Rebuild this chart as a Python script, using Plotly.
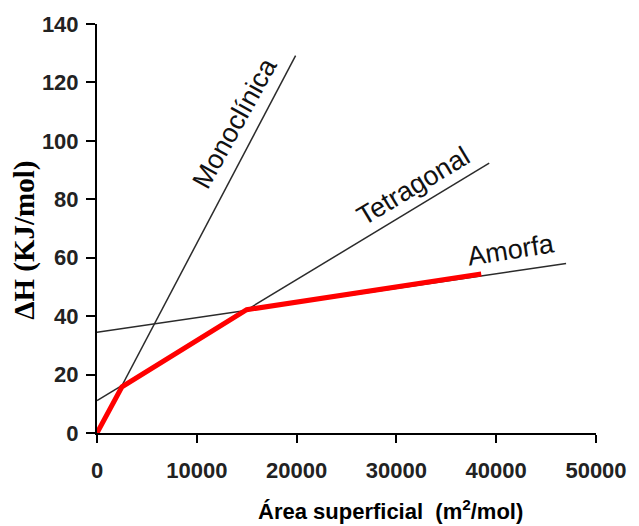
import plotly.graph_objects as go

# Measured enthalpy path (red) through the three phase lines
area_real = [0, 2500, 15000, 38500]
dh_real = [0, 15.8, 42.2, 54.4]

# Phase lines: surface area (m2/mol) vs enthalpy (kJ/mol)
mono_x = [0, 19900]
mono_y = [0, 129.2]
tetra_x = [0, 39300]
tetra_y = [11.1, 92.4]
amorfa_x = [0, 47000]
amorfa_y = [34.5, 58.0]

# Phase labels placed along their lines
label_text = ["Monoclínica", "Tetragonal", "Amorfa"]
label_x = [13800, 31700, 41450]
label_y = [106.2, 84.7, 62.7]
label_angle = [-61, -31, -9]

x_ticks = [0, 10000, 20000, 30000, 40000, 50000]
y_ticks = [0, 20, 40, 60, 80, 100, 120, 140]

fig = go.Figure()
line_style = dict(color="#2b2b2b", width=1.5)
for xs, ys in [(mono_x, mono_y), (tetra_x, tetra_y), (amorfa_x, amorfa_y)]:
    fig.add_trace(go.Scatter(x=xs, y=ys, mode="lines", line=line_style,
                             hoverinfo="skip", showlegend=False))
fig.add_trace(go.Scatter(x=area_real, y=dh_real, mode="lines",
                         line=dict(color="#ff0000", width=5),
                         showlegend=False))

for t, x, y, a in zip(label_text, label_x, label_y, label_angle):
    fig.add_annotation(x=x, y=y, text=t, textangle=a, showarrow=False,
                       font=dict(family="Liberation Sans, Arial", size=27, color="#111"))

sans = "Liberation Sans, Arial"
tick_font = dict(family=sans, size=22, color="#222", weight="bold")

fig.update_xaxes(range=[0, 50000], tickvals=x_ticks, ticktext=[str(v) for v in x_ticks],
                 showgrid=False, zeroline=False, showline=True, linecolor="black",
                 linewidth=2, ticks="outside", ticklen=8, tickwidth=1.5,
                 tickcolor="black", tickfont=tick_font, ticklabelstandoff=9)
fig.update_yaxes(range=[0, 140], tickvals=y_ticks, showgrid=False, zeroline=False,
                 showline=True, linecolor="black", linewidth=2, ticks="outside",
                 ticklen=9, tickwidth=1.5, tickcolor="black", tickfont=tick_font,
                 ticklabelstandoff=3)

fig.add_annotation(xref="paper", yref="paper", x=0, y=0.47, xshift=-72,
                   text="<b>ΔH (KJ/mol)</b>", textangle=-90, showarrow=False,
                   xanchor="center", yanchor="middle",
                   font=dict(family="Liberation Serif, Times New Roman", size=29, color="black"))
fig.add_annotation(xref="paper", yref="paper", x=0.589, y=0, yshift=-77,
                   text="<b>Área superficial&nbsp;&nbsp;(m<sup>2</sup>/mol)</b>", showarrow=False,
                   xanchor="center", yanchor="middle",
                   font=dict(family=sans, size=22, color="black"))

fig.update_layout(width=639, height=526, margin=dict(l=97, r=39, t=18, b=93),
                  plot_bgcolor="white", paper_bgcolor="white")

fig.write_html("out.html")
